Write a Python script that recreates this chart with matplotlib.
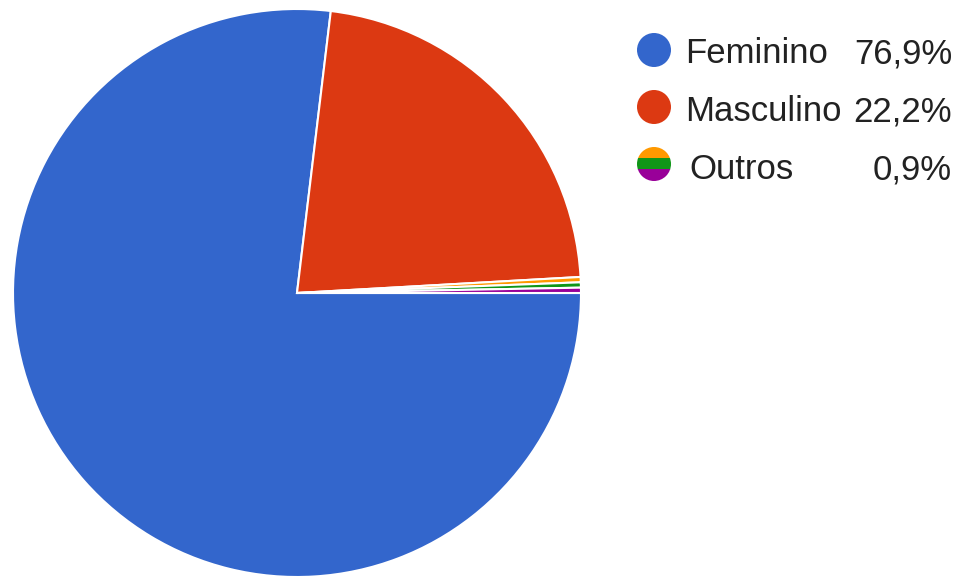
import matplotlib
matplotlib.use("Agg")
import matplotlib.pyplot as plt
from matplotlib.patches import Circle, Rectangle

# answers and their shares (percent)
labels = ["Feminino", "Masculino", "Outros"]
shares = [76.9, 22.2, 0.9]
# "Outros" is made of three single small answers
outros_parts = [0.3, 0.3, 0.3]
colors = ["#3366CC", "#DC3912"]
outros_colors = ["#FF9900", "#109618", "#990099"]

fig = plt.figure(figsize=(9.61, 5.76), dpi=100)
ax = fig.add_axes([0, 0, 1, 1])

# pie, clockwise from 3 o'clock
values = shares[:2] + outros_parts
ax.pie(values, colors=colors + outros_colors, startangle=0, counterclock=False,
       center=(297, 283), radius=284, frame=True,
       wedgeprops=dict(edgecolor="white", linewidth=1.5))
ax.set_xlim(0, 961)
ax.set_ylim(0, 576)
ax.set_aspect("equal")
ax.axis("off")

# legend drawn by hand
dot_y = [526, 469, 412]
base_y = [513, 455, 397]
text_x = [685, 685, 689]
font = dict(family="Liberation Sans", fontsize=25, color="#222222", va="baseline")
for i, (lab, val) in enumerate(zip(labels, shares)):
    y = dot_y[i]
    if i < 2:
        ax.add_patch(Circle((654, y), 17, color=colors[i], lw=0))
    else:
        clip = Circle((654, y), 17, transform=ax.transData)
        for j, c in enumerate(outros_colors):
            r = Rectangle((636, y + 17 - (j + 1) * 34 / 3), 36, 34 / 3 + 0.5,
                          color=c, lw=0)
            r.set_clip_path(clip)
            ax.add_patch(r)
    ax.text(text_x[i], base_y[i], lab, ha="left", **font)
    ax.text(952, base_y[i], f"{val:.1f}%".replace(".", ","), ha="right", **font)

fig.savefig("out.png", dpi=100, facecolor="white")
